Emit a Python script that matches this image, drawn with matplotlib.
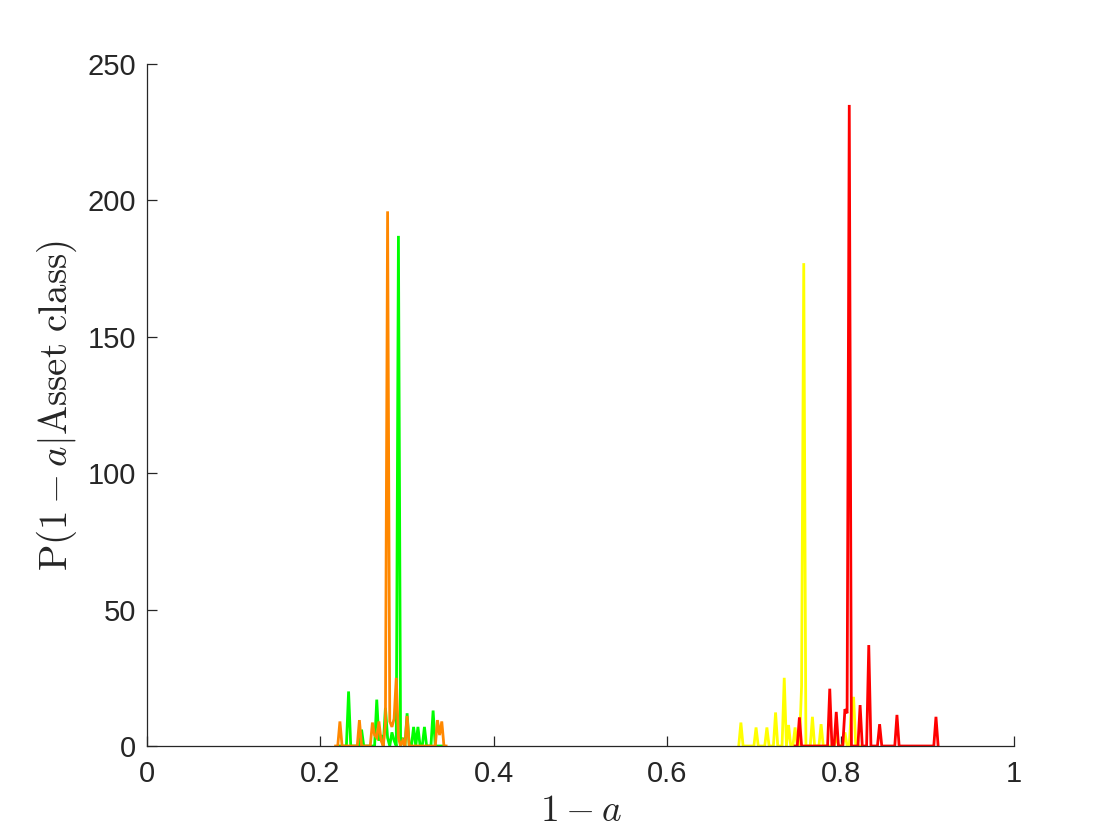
import numpy as np
import matplotlib
matplotlib.use("Agg")
import matplotlib.pyplot as plt

BIN = 0.0025  # histogram bin width along 1-a

# each curve: x of its first bin, then the bin heights (density)
green_x0 = 0.2225
green_vals = [0, 0, 0, 0, 20, 0, 0, 0, 0, 0,
              6, 0, 0, 0, 0, 0, 0, 17, 2, 4,
              0, 14, 3, 0, 5, 2, 0, 187, 0, 3,
              0, 12, 0, 0, 7, 0, 7, 0, 0, 7,
              0, 0, 0, 13, 0, 0, 0, 0, 0]

orange_x0 = 0.2175
orange_vals = [0, 0, 9, 0, 0, 0, 0, 0, 0, 0,
               0, 9.5, 0, 0, 0, 0, 0, 8.6, 4, 3,
               9, 2, 0, 8, 196, 9, 7, 10, 25, 3,
               0, 2, 0, 11, 0, 0, 0, 0, 0, 0,
               0, 0, 0, 0, 0, 0, 0, 9.5, 4, 9,
               0, 0]

yellow_x0 = 0.6825
yellow_vals = [0, 8.6, 0, 0, 0, 0, 0, 0, 6.8, 0,
               0, 0, 0, 6.8, 0, 0, 0, 12.3, 0, 0,
               0, 25, 0, 7.7, 0, 0, 6.8, 0, 0, 22,
               177, 0, 0, 0, 10.7, 0, 0, 0, 8, 0,
               0, 0, 0, 0, 0, 4, 0, 0, 0, 5,
               0, 0, 14, 18, 0, 0, 0]

red_x0 = 0.7475
red_vals = [0, 0, 10.5, 0, 0, 0, 0, 0, 0, 0,
            0, 0, 0, 0, 0, 0, 21, 0, 0, 12.5,
            0, 0, 0, 13.5, 12, 235, 0, 0, 0, 0,
            15, 0, 0, 0, 37, 0, 0, 0, 0, 8,
            0, 0, 0, 0, 0, 0, 0, 11.4, 0, 0,
            0, 0, 0, 0, 0, 0, 0, 0, 0, 0,
            0, 0, 0, 0, 0, 10.7, 0]

xticks = [0, 0.2, 0.4, 0.6, 0.8, 1]
xtick_labels = ["0", "0.2", "0.4", "0.6", "0.8", "1"]
yticks = [0, 50, 100, 150, 200, 250]

plt.rcParams["font.family"] = ["Liberation Sans", "DejaVu Sans"]
plt.rcParams["mathtext.fontset"] = "cm"

fig = plt.figure(figsize=(11.2, 8.4), dpi=100)
ax = fig.add_axes([0.13125, 0.1119, 0.7741, 0.8119])

curves = [(green_x0, green_vals, "#00ff00"),
          (orange_x0, orange_vals, "#ff8800"),
          (yellow_x0, yellow_vals, "#ffff00"),
          (red_x0, red_vals, "#ff0000")]
for x0, vals, col in curves:
    x = x0 + BIN * np.arange(len(vals))
    ax.plot(x, vals, color=col, lw=2.0, solid_joinstyle="miter")

ax.set_xlim(0, 1)
ax.set_ylim(0, 250)
ax.set_xticks(xticks)
ax.set_xticklabels(xtick_labels)
ax.set_yticks(yticks)

for side in ("top", "right"):
    ax.spines[side].set_visible(False)
for side in ("left", "bottom"):
    ax.spines[side].set_color("#262626")
    ax.spines[side].set_linewidth(0.9)
ax.tick_params(direction="in", length=7, width=0.9, colors="#262626",
               labelsize=21)
ax.tick_params(axis="y", pad=8)
ax.tick_params(axis="x", pad=10)

ax.set_xlabel(r"$1-a$", fontsize=27, color="#262626", labelpad=4)
ax.set_ylabel(r"$\mathrm{P}(1-a|\mathrm{Asset\ class})$", fontsize=28,
              color="#262626", labelpad=6)

fig.savefig("out.png", dpi=100)
